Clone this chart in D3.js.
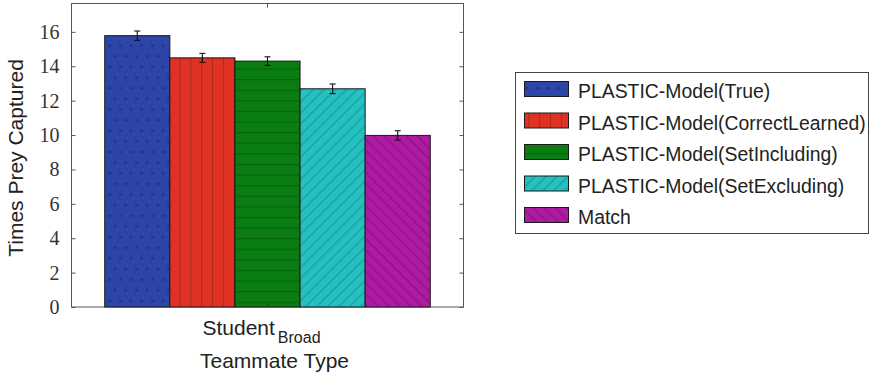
<!DOCTYPE html>
<html><head><meta charset="utf-8">
<script src="https://cdn.jsdelivr.net/npm/d3@7"></script>
<style>body{margin:0;background:#fff}svg{display:block}</style>
</head><body>
<svg id="c" width="870" height="377"></svg>
<script>
const categories = ["Student"];
const categorySub = ["Broad"];
const seriesNames = ["PLASTIC-Model(True)","PLASTIC-Model(CorrectLearned)","PLASTIC-Model(SetIncluding)","PLASTIC-Model(SetExcluding)","Match"];
const means = [15.78, 14.49, 14.30, 12.69, 9.98];
const errors = [0.27, 0.26, 0.25, 0.28, 0.27];
const yTicks = [0,2,4,6,8,10,12,14,16];
const colors = ["#2c45a6","#e03224","#0a7d12","#25c0c0","#ae1aa2"];
const lineColors = ["#1c2d80","#b3281c","#06620c","#1a9f9f","#8a1482"];

const svg = d3.select("#c");
const L = 71.5, R = 463.5, T = 3.5, B = 307;
const y = d3.scaleLinear().domain([0, 17.65]).range([B, T]);
const x0 = d3.scaleBand().domain(categories).range([L, R]).paddingInner(0.0926).paddingOuter(0.0926);
const x1 = d3.scaleBand().domain(seriesNames).range([0, x0.bandwidth()]);

const defs = svg.append("defs");
let p = defs.append("pattern").attr("id","p0").attr("patternUnits","userSpaceOnUse").attr("width",10.7).attr("height",21.3);
p.append("rect").attr("width",10.7).attr("height",21.3).attr("fill",colors[0]);
p.append("circle").attr("cx",2.5).attr("cy",3).attr("r",1.2).attr("fill",lineColors[0]);
p.append("circle").attr("cx",7.85).attr("cy",13.65).attr("r",1.2).attr("fill",lineColors[0]);
p = defs.append("pattern").attr("id","p1").attr("patternUnits","userSpaceOnUse").attr("width",10.9).attr("height",10);
p.append("rect").attr("width",10.9).attr("height",10).attr("fill",colors[1]);
p.append("line").attr("x1",5.5).attr("x2",5.5).attr("y1",0).attr("y2",10).attr("stroke",lineColors[1]).attr("stroke-width",1.1);
p = defs.append("pattern").attr("id","p2").attr("patternUnits","userSpaceOnUse").attr("width",10).attr("height",10.6);
p.append("rect").attr("width",10).attr("height",10.6).attr("fill",colors[2]);
p.append("line").attr("y1",5.5).attr("y2",5.5).attr("x1",0).attr("x2",10).attr("stroke",lineColors[2]).attr("stroke-width",1.2);
[[3,45],[4,-45]].forEach(([i,a])=>{
  const q = defs.append("pattern").attr("id","p"+i).attr("patternUnits","userSpaceOnUse").attr("width",7.8).attr("height",10).attr("patternTransform",`rotate(${a})`);
  q.append("rect").attr("width",7.8).attr("height",10).attr("fill",colors[i]);
  q.append("line").attr("x1",3.9).attr("x2",3.9).attr("y1",0).attr("y2",10).attr("stroke",lineColors[i]).attr("stroke-width",1.3);
});

svg.append("rect").attr("x",L).attr("y",T).attr("width",R-L).attr("height",B-T).attr("fill","none").attr("stroke","#555").attr("stroke-width",1);

const g = svg.append("g");
categories.forEach(c=>{
  seriesNames.forEach((s,i)=>{
    const bx = x0(c)+x1(s);
    g.append("rect").attr("x",bx).attr("y",y(means[i])).attr("width",x1.bandwidth()).attr("height",y(0)-y(means[i]))
      .attr("fill",`url(#p${i})`).attr("stroke","#1a1a1a").attr("stroke-width",1);
    const cx = bx + x1.bandwidth()/2;
    const e = g.append("g").attr("stroke","#111").attr("stroke-width",1.1);
    e.append("line").attr("x1",cx).attr("x2",cx).attr("y1",y(means[i]+errors[i])).attr("y2",y(means[i]-errors[i]));
    e.append("line").attr("x1",cx-3).attr("x2",cx+3).attr("y1",y(means[i]+errors[i])).attr("y2",y(means[i]+errors[i]));
    e.append("line").attr("x1",cx-3).attr("x2",cx+3).attr("y1",y(means[i]-errors[i])).attr("y2",y(means[i]-errors[i]));
  });
});

const ya = svg.append("g").attr("transform",`translate(${L},0)`)
  .call(d3.axisLeft(y).tickValues(yTicks).tickSize(-4).tickPadding(12).tickFormat(d3.format("d")));
ya.select(".domain").remove();
ya.selectAll("line").attr("stroke","#555");
ya.selectAll("text").attr("font-family","'Liberation Serif', serif").attr("font-size",20).attr("fill","#333");
const yr = svg.append("g").attr("transform",`translate(${R},0)`)
  .call(d3.axisRight(y).tickValues(yTicks).tickSize(-4).tickFormat(""));
yr.select(".domain").remove();
yr.selectAll("line").attr("stroke","#555");
const xa = svg.append("g").attr("transform",`translate(0,${B})`)
  .call(d3.axisBottom(x0).tickSize(-4).tickFormat(""));
xa.select(".domain").remove();
xa.selectAll("line").attr("stroke","#333");
const xt = svg.append("g").attr("transform",`translate(0,${T})`)
  .call(d3.axisTop(x0).tickSize(-4).tickFormat(""));
xt.select(".domain").remove();
xt.selectAll("line").attr("stroke","#555");

categories.forEach((c,i)=>{
  const t = svg.append("text").attr("x",x0(c)+x0.bandwidth()/2-6).attr("y",335)
    .attr("text-anchor","middle").attr("font-family","'Liberation Sans', Arial, sans-serif").attr("fill","#222");
  t.append("tspan").attr("font-size",21).text(c);
  t.append("tspan").attr("font-size",16).attr("dx",3).attr("dy",8).text(categorySub[i]);
});
svg.append("text").attr("x",(L+R)/2+7).attr("y",368).attr("text-anchor","middle")
  .attr("font-family","'Liberation Sans', Arial, sans-serif").attr("font-size",21).attr("fill","#222").text("Teammate Type");
svg.append("text").attr("transform",`translate(23,158) rotate(-90)`).attr("text-anchor","middle")
  .attr("font-family","'Liberation Sans', Arial, sans-serif").attr("font-size",21).attr("fill","#222").text("Times Prey Captured");

const lg = svg.append("g");
lg.append("rect").attr("x",515.5).attr("y",72.5).attr("width",353).attr("height",161).attr("fill","#fff").attr("stroke","#444").attr("stroke-width",1);
seriesNames.forEach((s,i)=>{
  const by = 98 + i*31.5;
  lg.append("rect").attr("x",524.5).attr("y",by-16.5).attr("width",44).attr("height",15)
    .attr("fill",`url(#p${i})`).attr("stroke","#1a1a1a").attr("stroke-width",1);
  lg.append("text").attr("x",578).attr("y",by).attr("font-family","'Liberation Sans', Arial, sans-serif")
    .attr("font-size",19.4).attr("fill","#222").text(s);
});
</script>
</body></html>
